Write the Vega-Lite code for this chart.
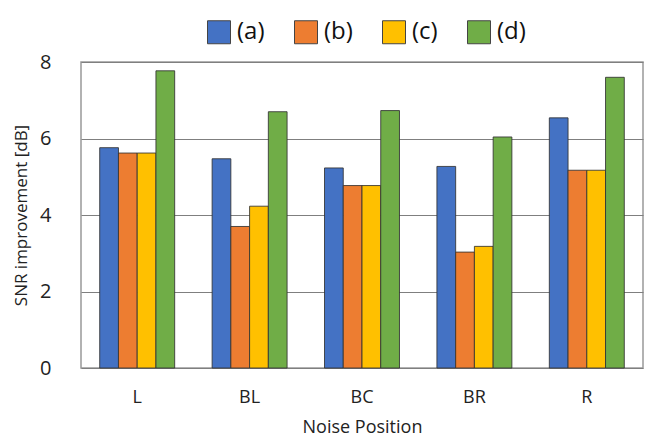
{
  "$schema": "https://vega.github.io/schema/vega-lite/v6.json",
  "width": 562,
  "height": 306,
  "autosize": {"type": "none"},
  "padding": {"left": 81, "top": 62, "right": 4, "bottom": 71},
  "background": "white",
  "config": {
    "font": "Open Sans",
    "view": {"stroke": "#999999", "strokeWidth": 1.5}
  },
  "data": {
    "values": [
      {"pos": "L", "method": "(a)", "snr": 5.76},
      {"pos": "L", "method": "(b)", "snr": 5.62},
      {"pos": "L", "method": "(c)", "snr": 5.62},
      {"pos": "L", "method": "(d)", "snr": 7.77},
      {"pos": "BL", "method": "(a)", "snr": 5.47},
      {"pos": "BL", "method": "(b)", "snr": 3.70},
      {"pos": "BL", "method": "(c)", "snr": 4.23},
      {"pos": "BL", "method": "(d)", "snr": 6.70},
      {"pos": "BC", "method": "(a)", "snr": 5.23},
      {"pos": "BC", "method": "(b)", "snr": 4.77},
      {"pos": "BC", "method": "(c)", "snr": 4.77},
      {"pos": "BC", "method": "(d)", "snr": 6.73},
      {"pos": "BR", "method": "(a)", "snr": 5.27},
      {"pos": "BR", "method": "(b)", "snr": 3.03},
      {"pos": "BR", "method": "(c)", "snr": 3.18},
      {"pos": "BR", "method": "(d)", "snr": 6.04},
      {"pos": "R", "method": "(a)", "snr": 6.54},
      {"pos": "R", "method": "(b)", "snr": 5.17},
      {"pos": "R", "method": "(c)", "snr": 5.17},
      {"pos": "R", "method": "(d)", "snr": 7.60}
    ]
  },
  "mark": {"type": "bar", "stroke": "#333333", "strokeWidth": 1, "strokeOpacity": 0.85},
  "encoding": {
    "x": {
      "field": "pos",
      "type": "nominal",
      "sort": ["L", "BL", "BC", "BR", "R"],
      "scale": {"paddingInner": 0.333, "paddingOuter": 0.1665},
      "axis": {
        "title": "Noise Position",
        "titleFontSize": 18,
        "titleFontWeight": "normal",
        "titleColor": "#222222",
        "titlePadding": 12,
        "labelFontSize": 18,
        "labelColor": "#222222",
        "labelAngle": 0,
        "labelPadding": 20,
        "ticks": false,
        "domain": false
      }
    },
    "xOffset": {"field": "method", "type": "nominal", "sort": ["(a)", "(b)", "(c)", "(d)"]},
    "y": {
      "field": "snr",
      "type": "quantitative",
      "scale": {"domain": [0, 8], "nice": false},
      "axis": {
        "values": [0, 2, 4, 6, 8],
        "title": "SNR improvement [dB]",
        "titleFontSize": 17,
        "titleFontWeight": "normal",
        "titleColor": "#222222",
        "titlePadding": 9,
        "labelFontSize": 20,
        "labelColor": "#222222",
        "labelPadding": 30,
        "ticks": false,
        "domain": false,
        "grid": true,
        "gridColor": "#7f7f7f",
        "gridWidth": 1.2
      }
    },
    "color": {
      "field": "method",
      "type": "nominal",
      "sort": ["(a)", "(b)", "(c)", "(d)"],
      "scale": {"range": ["#4472C4", "#ED7D31", "#FFC000", "#70AD47"]},
      "legend": {
        "title": null,
        "orient": "none",
        "direction": "horizontal",
        "columns": 4,
        "legendX": 126,
        "legendY": -42,
        "symbolType": "square",
        "symbolSize": 529,
        "symbolStrokeColor": "#444444",
        "symbolStrokeWidth": 1,
        "symbolOpacity": 1,
        "labelFontSize": 24,
        "labelColor": "#111111",
        "labelOffset": 6,
        "columnPadding": 27
      }
    }
  }
}
